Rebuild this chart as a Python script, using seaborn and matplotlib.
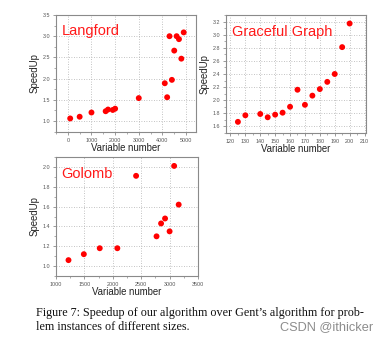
import matplotlib
matplotlib.use("Agg")
import matplotlib.pyplot as plt
import seaborn as sns
import pandas as pd
from matplotlib.ticker import MultipleLocator, AutoMinorLocator, FormatStrFormatter

# ---- data ----
langford_x = [100, 500, 1000, 1600, 1700, 1900, 2000, 3000, 4100, 4200, 4300, 4400, 4500, 4600, 4700, 4800, 4900]
langford_y = [1.06, 1.10, 1.20, 1.23, 1.27, 1.26, 1.29, 1.54, 1.89, 1.56, 3.00, 1.97, 2.66, 3.00, 2.93, 2.47, 3.09]

graceful_x = [125, 130, 140, 145, 150, 155, 160, 165, 170, 175, 180, 185, 190, 195, 200]
graceful_y = [1.67, 1.77, 1.79, 1.74, 1.78, 1.81, 1.90, 2.16, 1.93, 2.07, 2.17, 2.28, 2.40, 2.81, 3.17]

golomb_x = [1220, 1490, 1770, 2080, 2410, 2770, 2850, 2920, 3000, 3080, 3160]
golomb_y = [1.06, 1.12, 1.18, 1.18, 1.91, 1.30, 1.43, 1.48, 1.35, 2.01, 1.62]

titles = ["Langford", "Graceful Graph", "Golomb"]
xlabel = "Variable number"
ylabel = "SpeedUp"
caption1 = "Figure 7: Speedup of our algorithm over Gent\u2019s algorithm for prob-"
caption2 = "lem instances of different sizes."
watermark = "CSDN @ithicker"

sns.set_theme(style="white")
plt.rcParams['font.family'] = ['Liberation Sans', 'DejaVu Sans']

W, H = 389, 343
fig = plt.figure(figsize=(W / 100, H / 100), dpi=100)
fig.patch.set_facecolor("white")

def box(l, t, r, b):
    return [l / W, 1 - b / H, (r - l) / W, (b - t) / H]

panels = [
    dict(x=langford_x, y=langford_y, title=titles[0], rect=box(56, 15, 196, 132),
         xlim=(-500, 5420), ylim=(0.74, 3.5), xmaj=1000, ymaj=0.5, xminor=2),
    dict(x=graceful_x, y=graceful_y, title=titles[1], rect=box(226, 15, 366, 133),
         xlim=(117, 211), ylim=(1.5, 3.3), xmaj=10, ymaj=0.2, xminor=2),
    dict(x=golomb_x, y=golomb_y, title=titles[2], rect=box(56, 157, 198, 276),
         xlim=(1000, 3500), ylim=(0.9, 2.1), xmaj=500, ymaj=0.2, xminor=2),
]

spine_col = "#8a8a8a"
for p in panels:
    ax = fig.add_axes(p["rect"])
    df = pd.DataFrame({"x": p["x"], "y": p["y"]})
    sns.scatterplot(data=df, x="x", y="y", ax=ax, color="#ff0000", s=18,
                    edgecolor="none", linewidth=0, zorder=3)
    ax.set_xlim(*p["xlim"])
    ax.set_ylim(*p["ylim"])
    ax.xaxis.set_major_locator(MultipleLocator(p["xmaj"]))
    ax.yaxis.set_major_locator(MultipleLocator(p["ymaj"]))
    ax.xaxis.set_minor_locator(AutoMinorLocator(p["xminor"]))
    ax.yaxis.set_minor_locator(AutoMinorLocator(2))
    ax.yaxis.set_major_formatter(FormatStrFormatter("%.1f"))
    ax.grid(True, which="major", linestyle=(0, (1, 2)), color="#b0b0b0", linewidth=0.6)
    for s in ax.spines.values():
        s.set_color(spine_col)
        s.set_linewidth(0.8)
    ax.tick_params(which="major", direction="out", length=2.5, width=0.6,
                   color=spine_col, labelsize=3.9, labelcolor="#555555", pad=1.5,
                   bottom=True, left=True)
    ax.tick_params(which="minor", direction="out", length=1.5, width=0.5,
                   color=spine_col, bottom=True, left=True)
    ax.set_xlabel(xlabel, fontsize=6.9, color="#222222", labelpad=0.5)
    ax.set_ylabel(ylabel, fontsize=6.9, color="#222222", labelpad=2.5)
    ax.text(0.04, 0.86, p["title"], transform=ax.transAxes, color="#ff1a1a",
            fontsize=10.5, ha="left", va="center")

serif = ["Liberation Serif", "DejaVu Serif"]
fig.text(36 / W, 1 - 313 / H, caption1, fontsize=8.7, family=serif,
         ha="left", va="center", color="#111111")
fig.text(36 / W, 1 - 327 / H, caption2, fontsize=8.7, family=serif,
         ha="left", va="center", color="#111111")
fig.text(373 / W, 1 - 327 / H, watermark, fontsize=9.2, ha="right", va="center", color="#8c8c8c")

fig.savefig("out.png", dpi=100, facecolor="white")
